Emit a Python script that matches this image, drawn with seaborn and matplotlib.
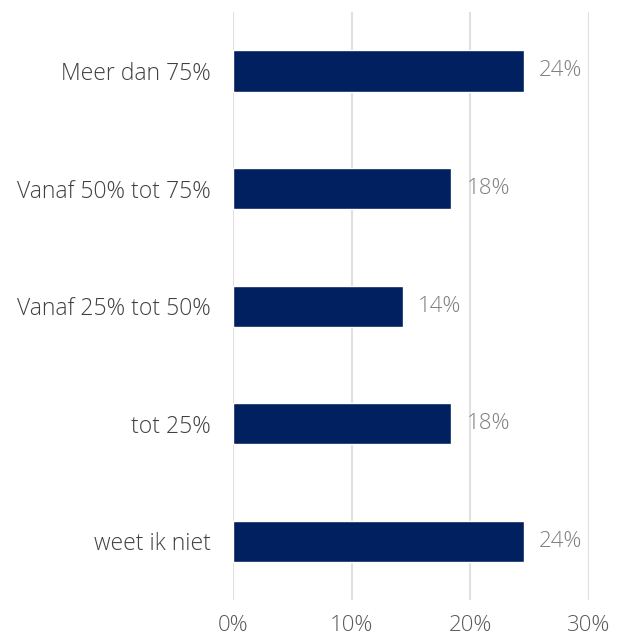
import matplotlib
matplotlib.use("Agg")
import matplotlib.pyplot as plt
import pandas as pd
import seaborn as sns

categories = ["Meer dan 75%", "Vanaf 50% tot 75%", "Vanaf 25% tot 50%", "tot 25%", "weet ik niet"]
values = [24.5, 18.4, 14.3, 18.4, 24.5]
value_labels = ["24%", "18%", "14%", "18%", "24%"]
x_ticks = [0, 10, 20, 30]
x_tick_labels = ["0%", "10%", "20%", "30%"]

sns.set_theme(style="white")
plt.rcParams["font.family"] = ["Open Sans", "DejaVu Sans"]
plt.rcParams["font.weight"] = 300

df = pd.DataFrame({"cat": categories, "val": values})

fig = plt.figure(figsize=(6.24, 6.42), dpi=100)
ax = fig.add_axes([0.3734, 0.0654, 0.5706, 0.9156])

for x in x_ticks:
    ax.axvline(x, color="#e0e0e0", linewidth=1.5, zorder=0)

sns.barplot(data=df, x="val", y="cat", orient="h", color="#002060",
            width=0.35, saturation=1, ax=ax, zorder=2)

for i, (v, lab) in enumerate(zip(values, value_labels)):
    ax.annotate(lab, (v, i), xytext=(11, 0), textcoords="offset points",
                ha="left", va="center", fontsize=16, color="#7f7f7f", fontweight=300)

ax.set_xlim(0, 30)
ax.set_ylim(4.5, -0.5)
ax.set_xticks(x_ticks)
ax.set_xticklabels(x_tick_labels, fontsize=16, color="#595959", fontweight=300)
ax.set_yticklabels(categories, fontsize=16.5, color="#404040", fontweight=300)
ax.tick_params(axis="x", length=0, pad=11)
ax.tick_params(axis="y", length=0, pad=16)
ax.set_xlabel("")
ax.set_ylabel("")
for s in ax.spines.values():
    s.set_visible(False)

fig.savefig("out.png", dpi=100)
